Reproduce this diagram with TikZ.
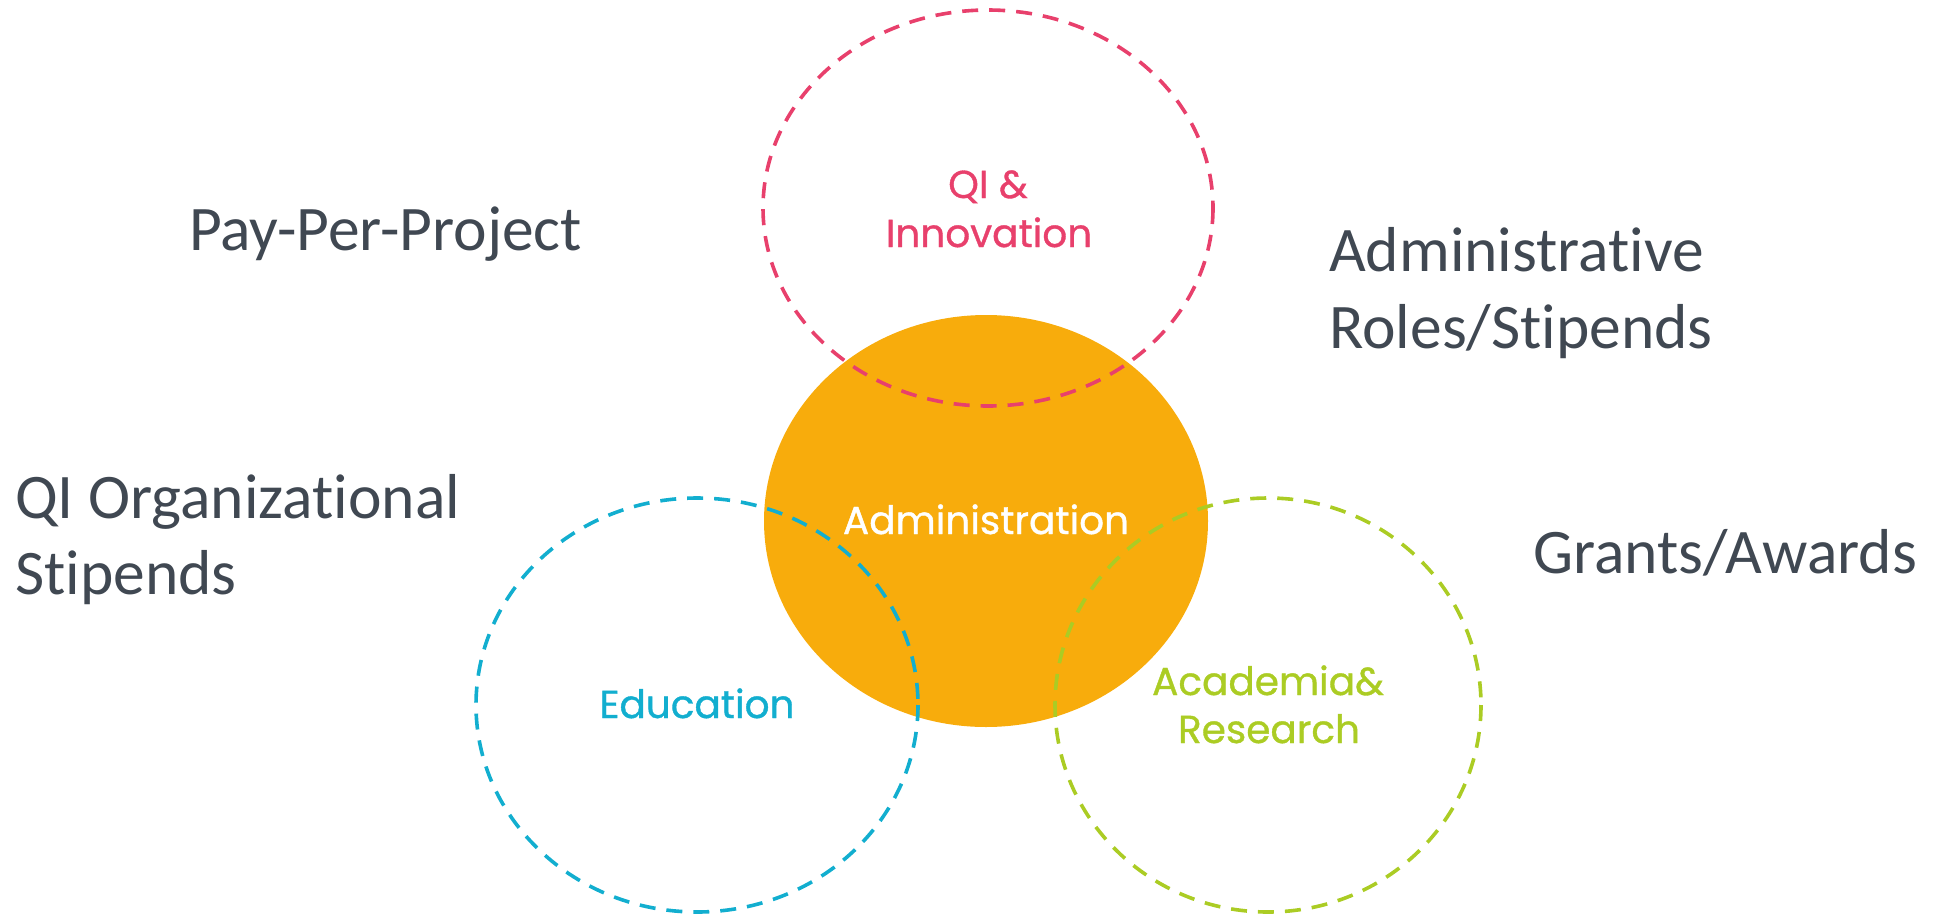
\documentclass[tikz,border=0pt]{standalone}
\usepackage{fontspec}
\setmainfont{Carlito}[Ligatures=NoCommon]
\newfontfamily\roundf{Poppins}[FakeBold=0.9]
\definecolor{cpink}{HTML}{E8406C}
\definecolor{corange}{HTML}{F8AC0C}
\definecolor{cblue}{HTML}{12AECF}
\definecolor{cgreen}{HTML}{ABCC24}
\definecolor{cgray}{HTML}{404852}
\tikzset{
  ring/.style={line width=3.6pt, dash pattern=on 16pt off 11pt},
  outer/.style={inner sep=0pt, anchor=base west, text=cgray, font=\fontsize{63.5}{76}\selectfont},
  inner/.style={inner sep=0pt, anchor=base, font=\roundf\fontsize{39}{47}\selectfont},
}
\begin{document}
\begin{tikzpicture}[x=1pt, y=-1pt]
\useasboundingbox (0,0) rectangle (1933,916);
% central filled ellipse
\fill[corange] (986,521) ellipse [x radius=222, y radius=206];
% dashed rings
\draw[ring, cpink] (988,208) ellipse [x radius=225, y radius=198];
\draw[ring, cblue] (697,705) ellipse [x radius=221, y radius=207];
\draw[ring, cgreen] (1268,705) ellipse [x radius=213, y radius=207];
% inner labels
\node[inner, text=cpink] (qi1) at (988,198) {QI \&};
\node[inner, text=cpink] (qi2) at (989,247) {Innovation};
\node[inner, text=white] (adm) at (986,534) {Administration};
\node[inner, text=cblue] (edu) at (697,718) {Education};
\node[inner, text=cgreen] (aca1) at (1268,695) {Academia\&};
\node[inner, text=cgreen] (aca2) at (1269,743) {Research};
% outer labels
\node[outer] (ppp) at (189,250) {Pay-Per-Project};
\node[outer] (ar1) at (1329,271) {Administrative};
\node[outer] (ar2) at (1329,348) {Roles/Stipends};
\node[outer] (qo1) at (15,518) {QI Organizational};
\node[outer] (qo2) at (15,594) {Stipends};
\node[outer] (ga) at (1533,573) {Grants/Awards};
\end{tikzpicture}
\end{document}
